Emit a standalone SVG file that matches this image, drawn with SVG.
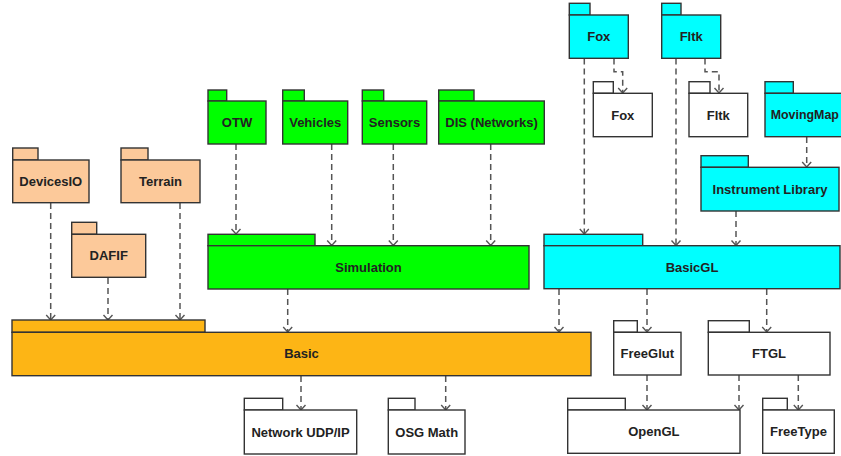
<svg xmlns="http://www.w3.org/2000/svg" width="841" height="456" viewBox="0 0 841 456">
<style>
.pk{stroke:#333;stroke-width:1.4}
.peach{fill:#FCC99A}
.orange{fill:#FDB515}
.green{fill:#00FF00}
.cyan{fill:#00FFFF}
.white{fill:#FFFFFF}
text{font-family:"Liberation Sans",Arial,sans-serif;font-weight:bold;font-size:13px;fill:#222;text-anchor:middle;dominant-baseline:central}
.dep{fill:none;stroke:#555;stroke-width:1.5;stroke-dasharray:6,4;marker-end:url(#arr)}
</style>
<defs>
<marker id="arr" markerWidth="12" markerHeight="12" refX="6" refY="6" orient="auto" markerUnits="userSpaceOnUse">
<path d="M1,1.5 L6,6 L1,10.5" fill="none" stroke="#555" stroke-width="1.4"/>
</marker>
</defs>
<rect width="841" height="456" fill="#fff"/>
<g id="connectors">
<path class="dep" d="M50.7,203 V320"/>
<path class="dep" d="M108,278 V320"/>
<path class="dep" d="M180,203 V320"/>
<path class="dep" d="M236,144 V234"/>
<path class="dep" d="M331.7,144 V245.5"/>
<path class="dep" d="M393.3,144 V245.5"/>
<path class="dep" d="M490.7,144 V245.5"/>
<path class="dep" d="M287.7,289 V332"/>
<path class="dep" d="M559,289 V332"/>
<path class="dep" d="M301,376 V410"/>
<path class="dep" d="M445.7,376 V410"/>
<path class="dep" d="M647,289 V332"/>
<path class="dep" d="M766.7,289 V332"/>
<path class="dep" d="M647,375 V410"/>
<path class="dep" d="M739,375 V410"/>
<path class="dep" d="M798.3,375 V410"/>
<path class="dep" d="M584.3,58.5 V234"/>
<path class="dep" d="M614,58.5 V71.7 H622.7 V93"/>
<path class="dep" d="M676,58.5 V245.5"/>
<path class="dep" d="M705,58.5 V71.7 H719 V93"/>
<path class="dep" d="M806.7,137 V167"/>
<path class="dep" d="M736,211 V245.5"/>
</g>
<g id="DevicesIO"><rect class="pk peach" x="12.7" y="148" width="25.3" height="12"/><rect class="pk peach" x="12.7" y="160" width="76.3" height="42.7"/><text x="50.8" y="181.4">DevicesIO</text></g>
<g id="Terrain"><rect class="pk peach" x="121" y="148" width="27" height="12"/><rect class="pk peach" x="121" y="160" width="79" height="42.7"/><text x="160.5" y="181.4">Terrain</text></g>
<g id="DAFIF"><rect class="pk peach" x="71.7" y="222.3" width="25" height="12"/><rect class="pk peach" x="71.7" y="234.3" width="74" height="43"/><text x="108.7" y="255.8">DAFIF</text></g>
<g id="Basic"><rect class="pk orange" x="12" y="320" width="193" height="12.3"/><rect class="pk orange" x="12" y="332.3" width="579" height="43.4"/><text x="301.5" y="353.5">Basic</text></g>
<g id="OTW"><rect class="pk green" x="208" y="90" width="18.7" height="11"/><rect class="pk green" x="208" y="101" width="58" height="43"/><text x="237" y="122.5">OTW</text></g>
<g id="Vehicles"><rect class="pk green" x="282.7" y="90" width="21.6" height="11"/><rect class="pk green" x="282.7" y="101" width="65" height="43"/><text x="315.2" y="122.5">Vehicles</text></g>
<g id="Sensors"><rect class="pk green" x="362.3" y="90" width="21.4" height="11"/><rect class="pk green" x="362.3" y="101" width="64.4" height="43"/><text x="394.5" y="122.5">Sensors</text></g>
<g id="DIS"><rect class="pk green" x="438.7" y="90" width="35.3" height="11"/><rect class="pk green" x="438.7" y="101" width="105.6" height="43"/><text x="491.5" y="122.5">DIS (Networks)</text></g>
<g id="Simulation"><rect class="pk green" x="208" y="234.3" width="107" height="11.4"/><rect class="pk green" x="208" y="245.7" width="321" height="43.3"/><text x="368.5" y="267.3">Simulation</text></g>
<g id="FoxC"><rect class="pk cyan" x="569.3" y="3.3" width="20.7" height="11.7"/><rect class="pk cyan" x="569.3" y="15" width="59" height="43.3"/><text x="598.8" y="36.7">Fox</text></g>
<g id="FltkC"><rect class="pk cyan" x="661.7" y="3.3" width="19.3" height="11.7"/><rect class="pk cyan" x="661.7" y="15" width="59" height="43.3"/><text x="691.2" y="36.7">Fltk</text></g>
<g id="FoxW"><rect class="pk white" x="593.3" y="81.7" width="20" height="11.6"/><rect class="pk white" x="593.3" y="93.3" width="59" height="43.4"/><text x="622.8" y="115">Fox</text></g>
<g id="FltkW"><rect class="pk white" x="689" y="81.7" width="21" height="11.6"/><rect class="pk white" x="689" y="93.3" width="58.7" height="43.4"/><text x="718.3" y="115">Fltk</text></g>
<g id="MovingMap"><rect class="pk cyan" x="765" y="81.7" width="28.3" height="11.6"/><rect class="pk cyan" x="765" y="93.3" width="85" height="43.4"/><text x="804.8" y="115" style="font-size:12.4px">MovingMap</text></g>
<g id="InstrumentLibrary"><rect class="pk cyan" x="701" y="155.7" width="47.3" height="11.6"/><rect class="pk cyan" x="701" y="167.3" width="138" height="43.7"/><text x="770" y="189">Instrument Library</text></g>
<g id="BasicGL"><rect class="pk cyan" x="544" y="234.3" width="98.7" height="11.4"/><rect class="pk cyan" x="544" y="245.7" width="296" height="43"/><text x="692" y="267.3">BasicGL</text></g>
<g id="FreeGlut"><rect class="pk white" x="613.7" y="320.7" width="23.6" height="11.6"/><rect class="pk white" x="613.7" y="332.3" width="67.3" height="42.7"/><text x="647.3" y="353.7">FreeGlut</text></g>
<g id="FTGL"><rect class="pk white" x="708.3" y="320.7" width="41" height="11.6"/><rect class="pk white" x="708.3" y="332.3" width="121.7" height="42.7"/><text x="769" y="353.7">FTGL</text></g>
<g id="NetworkUDPIP"><rect class="pk white" x="244.3" y="398.3" width="38.4" height="11.7"/><rect class="pk white" x="244.3" y="410" width="112.4" height="44"/><text x="300.5" y="432">Network UDP/IP</text></g>
<g id="OSGMath"><rect class="pk white" x="388.3" y="398.3" width="26.7" height="11.7"/><rect class="pk white" x="388.3" y="410" width="76.7" height="44"/><text x="426.7" y="432">OSG Math</text></g>
<g id="OpenGL"><rect class="pk white" x="567.7" y="398.3" width="57.6" height="11.7"/><rect class="pk white" x="567.7" y="410" width="172.3" height="43.3"/><text x="653.8" y="431.7">OpenGL</text></g>
<g id="FreeType"><rect class="pk white" x="762.7" y="398.3" width="24.6" height="11.7"/><rect class="pk white" x="762.7" y="410" width="71.6" height="43.3"/><text x="798.5" y="431.7">FreeType</text></g>
</svg>
